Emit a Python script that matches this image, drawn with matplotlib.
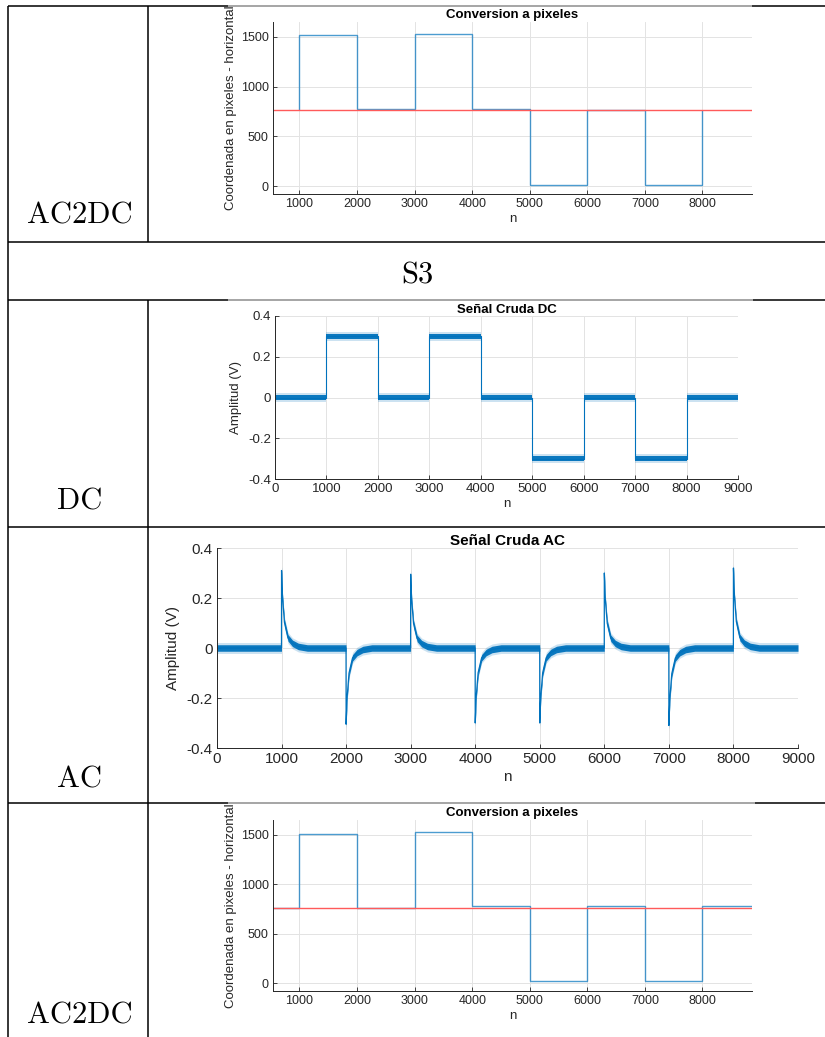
import numpy as np
import matplotlib
matplotlib.use("Agg")
import matplotlib.pyplot as plt
from matplotlib.lines import Line2D

# ---------------- data ----------------
# Pixel-coordinate conversion (horizontal), first AC2DC run
px1_edges = [1000, 2000, 3000, 4000, 5000, 6000, 7000, 8000]
px1_levels = [1520, 770, 1530, 770, 10, 765, 10]
px1_center = 760
px1_range = [540, 8860]

# Raw DC signal: segment edges, mean level per segment, noise half-width
dc_edges = [0, 1000, 2000, 3000, 4000, 5000, 6000, 7000, 8000, 9000]
dc_levels = [0.0, 0.30, 0.0, 0.30, 0.0, -0.30, 0.0, -0.30, 0.0]
dc_noise_core = 0.013
dc_noise_peak = 0.022

# Raw AC signal: transient events and decay profile of each spike
ac_events = [1000, 2000, 3000, 4000, 5000, 6000, 7000, 8000]
ac_peaks = [0.31, -0.305, 0.295, -0.30, -0.30, 0.30, -0.31, 0.32]
ac_decay_offset = [0, 15, 45, 100, 170, 260, 400]
ac_decay_frac = [1.0, 0.65, 0.33, 0.13, 0.06, 0.02, 0.0]
ac_span = [0, 9000]
ac_noise_core = 0.013
ac_noise_peak = 0.022

# Pixel-coordinate conversion (horizontal), second AC2DC run
px2_edges = [540, 1000, 2000, 3000, 4000, 5000, 6000, 7000, 8000, 8860]
px2_levels = [755, 1510, 760, 1530, 775, 20, 780, 20, 780]
px2_center = 760

row_labels = ["AC2DC", "DC", "AC", "AC2DC"]
section_label = "S3"

# ---------------- figure ----------------
W, H = 825, 1037
fig = plt.figure(figsize=(W / 100, H / 100), dpi=100)
fig.patch.set_facecolor("white")

BLUE = "#0072BD"
AXC = "#262626"
FONT = "Liberation Sans"


def rect(l, t, r, b):
    return [l / W, 1 - b / H, (r - l) / W, (b - t) / H]


def hline(y, x0, x1, color="black", lw=1.1):
    fig.add_artist(Line2D([x0 / W, x1 / W], [1 - y / H, 1 - y / H],
                          color=color, lw=lw, solid_capstyle="butt"))


def vline(x, y0, y1, color="black", lw=1.1):
    fig.add_artist(Line2D([x / W, x / W], [1 - y0 / H, 1 - y1 / H],
                          color=color, lw=lw, solid_capstyle="butt"))


def style(ax, fs):
    for s in ("top", "right"):
        ax.spines[s].set_visible(False)
    for s in ("left", "bottom"):
        ax.spines[s].set_color(AXC)
        ax.spines[s].set_linewidth(0.7)
    ax.tick_params(direction="in", length=3, width=0.6, colors=AXC,
                   labelsize=fs, pad=3)
    for lab in ax.get_xticklabels() + ax.get_yticklabels():
        lab.set_fontfamily(FONT)
    ax.grid(True, color="#e3e3e3", lw=0.7)
    ax.set_axisbelow(True)


# ---------------- table rules ----------------
for y in (6, 242, 300, 527, 803):
    hline(y, 8, W)
vline(8, 6, H)
vline(148, 6, 242)
vline(148, 300, H)
# light frame edges where the embedded plots sit
hline(6, 228, 752, color="#bdbdbd", lw=1.2)
hline(300, 228, 753, color="#bdbdbd", lw=1.2)
hline(803, 228, 755, color="#bdbdbd", lw=1.2)

# row labels
lab_kw = dict(family="cmr10", fontsize=22, ha="center", va="baseline",
              color="black")
fig.text(80 / W, 1 - 224 / H, row_labels[0], **lab_kw)
fig.text(417 / W, 1 - 283 / H, section_label, **lab_kw)
fig.text(80 / W, 1 - 510 / H, row_labels[1], **lab_kw)
fig.text(80 / W, 1 - 787 / H, row_labels[2], **lab_kw)
fig.text(80 / W, 1 - 1024 / H, row_labels[3], **lab_kw)


def pixel_plot(ax, edges, levels, center, xr, baseline):
    ax.stairs(levels, edges, baseline=baseline, color=BLUE, lw=1.0,
              alpha=0.7)
    ax.axhline(center, color="#ff5a5a", lw=1.0)
    ax.set_xlim(xr[0], xr[1])
    ax.set_ylim(-80, 1650)
    ax.set_xticks(np.arange(1000, 8001, 1000))
    ax.set_yticks([0, 500, 1000, 1500])
    style(ax, 9)
    ax.set_title("Conversion a pixeles", fontsize=9.5, fontweight="bold",
                 family=FONT, pad=3)
    ax.set_xlabel("n", fontsize=9.5, family=FONT, color=AXC, labelpad=2)
    ax.set_ylabel("Coordenada en pixeles - horizontal", fontsize=9.5,
                  family=FONT, color=AXC, labelpad=3)


# ---------------- AC2DC (top) ----------------
ax1 = fig.add_axes(rect(273, 22, 752, 194))
pixel_plot(ax1, px1_edges, px1_levels, px1_center, px1_range, px1_center)

# ---------------- DC raw signal ----------------
ax2 = fig.add_axes(rect(275, 316, 738, 479))
xs = np.repeat(dc_edges, 2)[1:-1]
ys = np.repeat(dc_levels, 2)
ax2.fill_between(xs, ys - dc_noise_peak, ys + dc_noise_peak, color=BLUE,
                 alpha=0.2, lw=0)
ax2.fill_between(xs, ys - dc_noise_core, ys + dc_noise_core, color=BLUE,
                 alpha=0.95, lw=0)
ax2.plot(xs, ys, color=BLUE, lw=0.8)
ax2.set_xlim(0, 9000)
ax2.set_ylim(-0.4, 0.4)
ax2.set_xticks(np.arange(0, 9001, 1000))
ax2.set_yticks([-0.4, -0.2, 0, 0.2, 0.4])
ax2.set_yticklabels(["-0.4", "-0.2", "0", "0.2", "0.4"])
style(ax2, 9.5)
ax2.set_title("Señal Cruda DC", fontsize=9.5, fontweight="bold", family=FONT,
              pad=2)
ax2.set_xlabel("n", fontsize=9.5, family=FONT, color=AXC, labelpad=2)
ax2.set_ylabel("Amplitud (V)", fontsize=9.5, family=FONT, color=AXC,
               labelpad=4)

# ---------------- AC raw signal ----------------
ax3 = fig.add_axes(rect(217, 548, 798, 748))
ax_x = [ac_span[0]]
ax_y = [0.0]
for e, p in zip(ac_events, ac_peaks):
    ax_x.append(e - 1)
    ax_y.append(0.0)
    for off, fr in zip(ac_decay_offset, ac_decay_frac):
        ax_x.append(e + off)
        ax_y.append(p * fr)
ax_x.append(ac_span[1])
ax_y.append(0.0)
ax_x = np.array(ax_x, dtype=float)
ax_y = np.array(ax_y)
ax3.fill_between(ax_x, ax_y - ac_noise_peak, ax_y + ac_noise_peak,
                 color=BLUE, alpha=0.2, lw=0)
ax3.fill_between(ax_x, ax_y - ac_noise_core, ax_y + ac_noise_core,
                 color=BLUE, alpha=0.95, lw=0)
ax3.plot(ax_x, ax_y, color=BLUE, lw=0.9)
ax3.set_xlim(0, 9000)
ax3.set_ylim(-0.4, 0.4)
ax3.set_xticks(np.arange(0, 9001, 1000))
ax3.set_yticks([-0.4, -0.2, 0, 0.2, 0.4])
ax3.set_yticklabels(["-0.4", "-0.2", "0", "0.2", "0.4"])
style(ax3, 11)
ax3.set_title("Señal Cruda AC", fontsize=11, fontweight="bold",
              family=FONT, pad=2)
ax3.set_xlabel("n", fontsize=11, family=FONT, color=AXC, labelpad=3)
ax3.set_ylabel("Amplitud (V)", fontsize=11, family=FONT, color=AXC,
               labelpad=5)

# ---------------- AC2DC (bottom) ----------------
ax4 = fig.add_axes(rect(273, 820, 752, 991))
pixel_plot(ax4, px2_edges, px2_levels, px2_center,
           [px2_edges[0], px2_edges[-1]], None)

fig.savefig("out.png", dpi=100, facecolor="white")
